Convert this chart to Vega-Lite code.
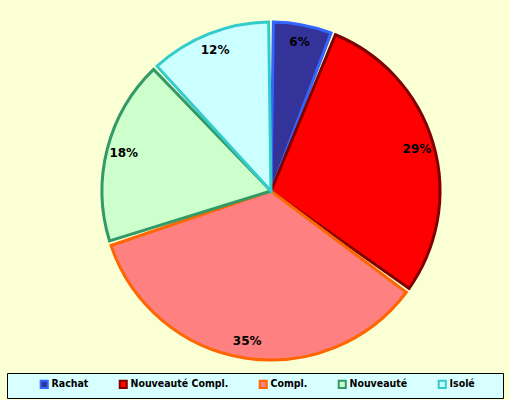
{
  "$schema": "https://vega.github.io/schema/vega-lite/v6.json",
  "width": 478,
  "height": 382,
  "autosize": {"type": "none"},
  "padding": {"left": 32, "top": 0, "right": 0, "bottom": 18},
  "background": "#FAFFD4",
  "view": {"stroke": null},
  "data": {
    "values": [
      {"segment": "Rachat", "pct": 6, "label": "6%", "order": 1},
      {"segment": "Nouveauté Compl.", "pct": 29, "label": "29%", "order": 2},
      {"segment": "Compl.", "pct": 35, "label": "35%", "order": 3},
      {"segment": "Nouveauté", "pct": 18, "label": "18%", "order": 4},
      {"segment": "Isolé", "pct": 12, "label": "12%", "order": 5}
    ]
  },
  "encoding": {
    "theta": {"field": "pct", "type": "quantitative", "stack": true},
    "order": {"field": "order", "type": "quantitative"}
  },
  "layer": [
    {
      "mark": {"type": "arc", "outerRadius": 169, "padAngle": 0.028, "strokeWidth": 3, "strokeJoin": "miter"},
      "encoding": {
        "color": {
          "field": "segment",
          "type": "nominal",
          "sort": null,
          "scale": {
            "domain": ["Rachat", "Nouveauté Compl.", "Compl.", "Nouveauté", "Isolé"],
            "range": ["#333399", "#FF0000", "#FF8080", "#CCFFCC", "#CCFFFF"]
          },
          "legend": {
            "title": " ",
            "titleOrient": "right",
            "titlePadding": 22,
            "orient": "none",
            "legendX": -25,
            "legendY": 373,
            "direction": "horizontal",
            "columns": 5,
            "fillColor": "#D8FFFF",
            "strokeColor": "black",
            "padding": 6,
            "symbolType": "square",
            "symbolSize": 50,
            "symbolStrokeWidth": 2,
            "symbolOffset": 26,
            "columnPadding": 3,
            "labelOffset": 2,
            "labelFont": "DejaVu Sans Condensed",
            "labelFontWeight": "bold",
            "labelFontSize": 10.5,
            "labelColor": "black"
          }
        },
        "stroke": {
          "field": "segment",
          "type": "nominal",
          "sort": null,
          "scale": {
            "domain": ["Rachat", "Nouveauté Compl.", "Compl.", "Nouveauté", "Isolé"],
            "range": ["#3366FF", "#800000", "#FF6600", "#339966", "#33CCCC"]
          },
          "legend": {
            "title": " ",
            "titleOrient": "right",
            "titlePadding": 22,
            "orient": "none",
            "legendX": -25,
            "legendY": 373,
            "direction": "horizontal",
            "columns": 5,
            "fillColor": "#D8FFFF",
            "strokeColor": "black",
            "padding": 6,
            "symbolType": "square",
            "symbolSize": 50,
            "symbolStrokeWidth": 2,
            "symbolOffset": 26,
            "columnPadding": 3,
            "labelOffset": 2,
            "labelFont": "DejaVu Sans Condensed",
            "labelFontWeight": "bold",
            "labelFontSize": 10.5,
            "labelColor": "black"
          }
        }
      }
    },
    {
      "mark": {"type": "text", "radius": 152, "font": "DejaVu Sans", "fontWeight": "bold", "fontSize": 12, "color": "black"},
      "encoding": {"text": {"field": "label", "type": "nominal"}}
    }
  ]
}
